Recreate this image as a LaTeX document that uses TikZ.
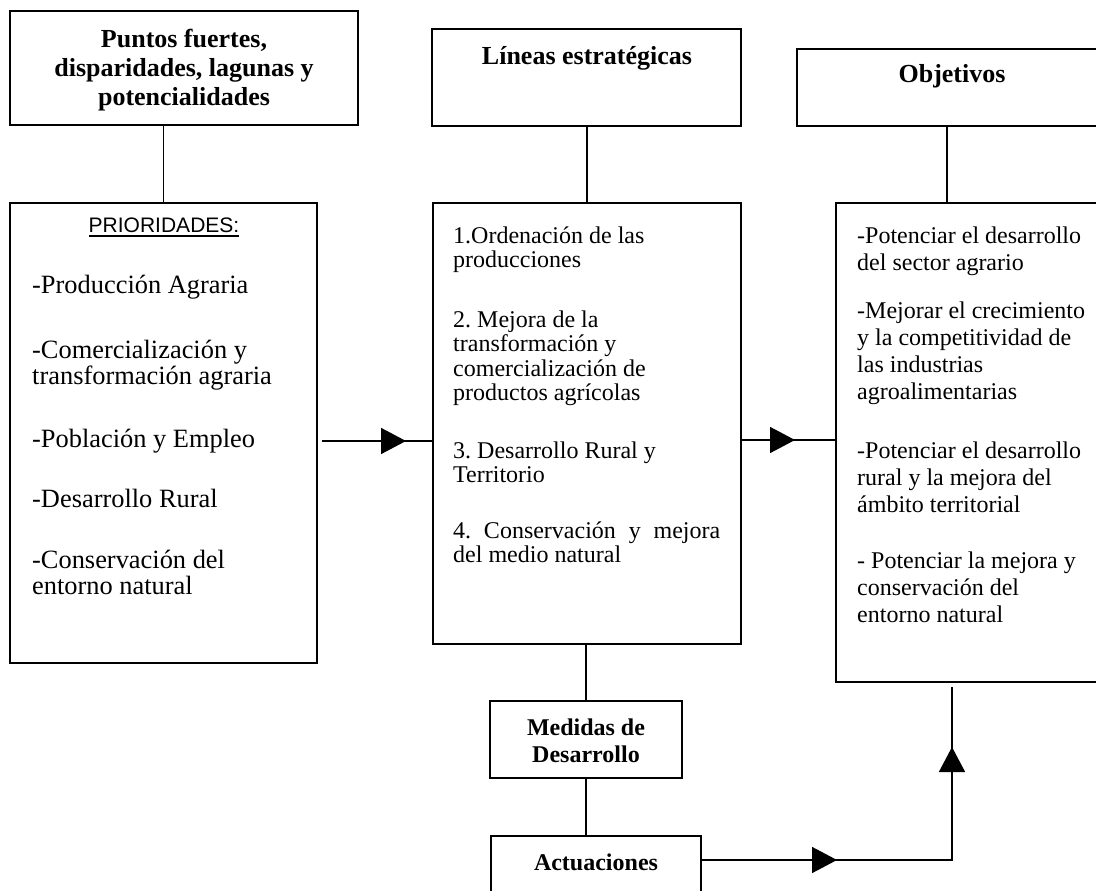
\documentclass[tikz,border=0pt]{standalone}
\usepackage{fontspec}
\setmainfont{Liberation Serif}
\newfontfamily\arialfont{Liberation Sans}
\usetikzlibrary{arrows.meta,decorations.markings}
\frenchspacing
\begin{document}
\begin{tikzpicture}[x=1pt,y=-1pt,
  box/.style={draw, line width=1.6pt, rectangle, inner sep=0pt, outer sep=0pt},
  conn/.style={line width=1.6pt},
  midarrow/.style={postaction={decorate},decoration={markings,mark=at position #1 with {\arrow{Triangle[length=25pt,width=26pt]}}}},
  body/.style={anchor=base west, inner sep=0pt, font=\fontsize{24}{#1}\selectfont},
  bigbody/.style={anchor=base west, inner sep=0pt, font=\fontsize{26.4}{26.5}\selectfont},
  title/.style={anchor=base, inner sep=0pt, font=\fontsize{26}{29}\selectfont\bfseries},
  smalltitle/.style={anchor=base, inner sep=0pt, font=\fontsize{24}{27}\selectfont\bfseries},
]
\clip (0,0) rectangle (1096,891);
\fill[white] (0,0) rectangle (1096,891);

% boxes
\node[box, minimum width=348pt, minimum height=114pt] (b1) at (184,68) {};
\node[box, minimum width=309pt, minimum height=97pt] (b2) at (586.5,77.5) {};
\node[box, minimum width=310pt, minimum height=77pt] (b3) at (952,87.5) {};
\node[box, minimum width=307pt, minimum height=460pt] (b4) at (163.5,433) {};
\node[box, minimum width=308pt, minimum height=441pt] (b5) at (587,423.5) {};
\node[box, minimum width=274pt, minimum height=479pt] (b6) at (973,442.5) {};
\node[box, minimum width=192pt, minimum height=77pt] (b7) at (586,739.5) {};
\node[box, minimum width=210pt, minimum height=69pt] (b8) at (596,870.5) {};

% titles
\node[title] (t1) at (184,48) {\parbox[t]{340pt}{\centering Puntos fuertes,\\ disparidades, lagunas y\\ potencialidades}};
\node[title] (t2) at (587,65) {Líneas estratégicas};
\node[title] (t3) at (952,83) {Objetivos};
\node[smalltitle] (t7) at (586,735) {\parbox[t]{185pt}{\centering Medidas de\\ Desarrollo}};
\node[smalltitle] (t8) at (596,870) {Actuaciones};

% left box
\node[anchor=base, inner sep=0pt, font=\arialfont\fontsize{21}{24}\selectfont] (ph) at (164,232) {PRIORIDADES:};
\draw[line width=1.3pt] ([yshift=-4pt]ph.base west) -- ([yshift=-4pt]ph.base east);
\node[bigbody] (l1) at (32,293) {\parbox[t]{280pt}{-Producción Agraria}};
\node[bigbody] (l2) at (32,358) {\parbox[t]{280pt}{-Comercialización y\\ transformación agraria}};
\node[bigbody] (l3) at (32,447) {\parbox[t]{280pt}{-Población y Empleo}};
\node[bigbody] (l4) at (32,507) {\parbox[t]{280pt}{-Desarrollo Rural}};
\node[bigbody] (l5) at (32,568) {\parbox[t]{280pt}{-Conservación del\\ entorno natural}};

% middle box
\node[body=24.5] (m1) at (453,243) {\parbox[t]{280pt}{1.Ordenación de las\\ producciones}};
\node[body=24.5] (m2) at (453,327) {\parbox[t]{280pt}{2. Mejora de la\\ transformación y\\ comercialización de\\ productos agrícolas}};
\node[body=24.5] (m3) at (453,458) {\parbox[t]{280pt}{3. Desarrollo Rural y\\ Territorio}};
\node[body=24.5] (m4) at (453,538) {\parbox[t]{280pt}{\makebox[267pt][s]{4. Conservación y mejora}\\ del medio natural}};

% right box
\node[body=27] (r1) at (857,243) {\parbox[t]{240pt}{-Potenciar el desarrollo\\ del sector agrario}};
\node[body=27] (r2) at (857,318) {\parbox[t]{240pt}{-Mejorar el crecimiento\\ y la competitividad de\\ las industrias\\ agroalimentarias}};
\node[body=27] (r3) at (857,458) {\parbox[t]{240pt}{-Potenciar el desarrollo\\ rural y la mejora del\\ ámbito territorial}};
\node[body=27] (r4) at (857,568) {\parbox[t]{240pt}{- Potenciar la mejora y\\ conservación del\\ entorno natural}};

% vertical connectors
\draw[conn] (b4.north) -- (b4.north |- b1.south);
\draw[conn] (b5.north) -- (b5.north |- b2.south);
\draw[conn] ([xshift=150pt]b3.south west) -- ([xshift=150pt]b3.south west |- b6.north);
\draw[conn] (b7.north) -- (b7.north |- b5.south);
\draw[conn] (b7.south) -- (b7.south |- b8.north);

% arrows
\coordinate (a1) at (322,441);
\draw[conn, midarrow=84pt] (a1) -- (a1 -| b5.west);
\coordinate (a2) at (741,440);
\draw[conn, midarrow=54pt] (a2) -- (a2 -| b6.west);
\coordinate (a3) at (701,860);
\coordinate (a3c) at (952,860);
\coordinate (a3e) at (952,687);
\draw[conn, postaction={decorate}, decoration={markings,
   mark=at position 136pt with {\arrow{Triangle[length=25pt,width=26pt]}},
   mark=at position 364pt with {\arrow{Triangle[length=25pt,width=26pt]}}}]
   (a3) -- (a3c) -- (a3e);
\end{tikzpicture}
\end{document}
